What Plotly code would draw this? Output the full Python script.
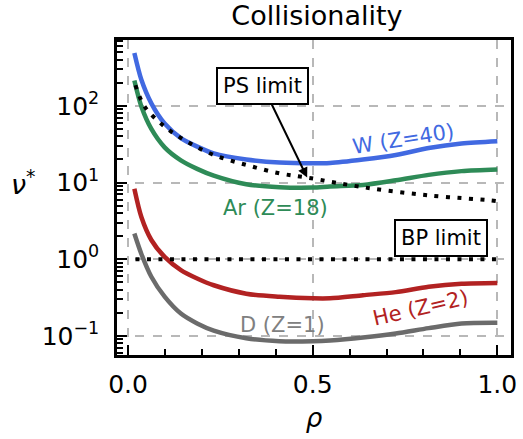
import plotly.graph_objects as go

rho = [0.017, 0.036, 0.063, 0.099, 0.143, 0.187, 0.232, 0.32, 0.41, 0.5,
       0.547, 0.636, 0.725, 0.814, 0.903, 1.0]
nu_W = [490, 219, 108, 58.9, 38, 29.5, 24, 20, 18.2, 17.8,
        18.0, 20.0, 22.9, 28.2, 32.4, 34.7]
nu_Ar = [214, 98, 50, 28.8, 19.5, 15.1, 12.3, 9.5, 8.7, 8.6,
         8.9, 9.3, 10.7, 12.6, 14.1, 14.8]
nu_He = [8.3, 3.55, 1.78, 1.07, 0.72, 0.56, 0.457, 0.355, 0.324, 0.309,
         0.309, 0.339, 0.372, 0.437, 0.479, 0.49]
nu_D = [2.16, 1.17, 0.59, 0.324, 0.195, 0.145, 0.117, 0.093, 0.085, 0.085,
        0.087, 0.095, 0.107, 0.126, 0.145, 0.148]

rho_ps = [0.02, 0.045, 0.099, 0.161, 0.232, 0.32, 0.41, 0.49, 0.636, 0.814, 0.974, 1.0]
nu_ps = [186, 98, 53.7, 33.9, 22.9, 17, 13.2, 11.5, 8.7, 6.8, 5.9, 5.7]
rho_bp = [0.02, 1.0]
nu_bp = [1.0, 1.0]

ytick_vals = [0.1, 1, 10, 100]
ytick_text = ["10<sup>−1</sup>", "10<sup>0</sup>", "10<sup>1</sup>", "10<sup>2</sup>"]
xtick_vals = [0.0, 0.5, 1.0]
xtick_text = ["0.0", "0.5", "1.0"]

colors = {"W": "#4169E1", "Ar": "#2E8B57", "He": "#B22222", "D": "#6B6B6B"}

fig = go.Figure()
for name, vals in [("W", nu_W), ("Ar", nu_Ar), ("He", nu_He), ("D", nu_D)]:
    fig.add_trace(go.Scatter(x=rho, y=vals, mode="lines", line=dict(color=colors[name], width=4.5, shape="spline", smoothing=0.8),
                             showlegend=False, hoverinfo="skip"))
for xs, ys in [(rho_ps, nu_ps), (rho_bp, nu_bp)]:
    fig.add_trace(go.Scatter(x=xs, y=ys, mode="lines", line=dict(color="black", width=4, dash="4px,7.5px", shape="spline"),
                             showlegend=False, hoverinfo="skip"))

minor_y = []
for dec in [0.01, 0.1, 1, 10, 100]:
    for k in range(2, 10):
        v = k * dec
        if 0.056 < v < 720:
            minor_y.append(v)
minor_x = [0.1, 0.2, 0.3, 0.4, 0.6, 0.7, 0.8, 0.9]

font = "DejaVu Sans"
fig.update_layout(
    width=523, height=439,
    margin=dict(l=117, r=6, t=40, b=84),
    paper_bgcolor="white", plot_bgcolor="white",
    font=dict(family=font, color="black", size=25),
    title=dict(text="Collisionality", x=0.606, xanchor="center", y=1 - 16 / 439, yanchor="middle",
               yref="container", font=dict(size=27, family=font)),
)
fig.update_xaxes(
    range=[-0.03, 1.037], tickmode="array", tickvals=xtick_vals, ticktext=xtick_text,
    ticks="inside", ticklen=10, tickwidth=2, tickcolor="black",
    showline=True, linecolor="black", linewidth=2.5, mirror=True,
    showgrid=True, gridcolor="#b8b8b8", griddash="dash", gridwidth=1.5, zeroline=False,
    tickfont=dict(size=25), ticklabelstandoff=5,
    minor=dict(tickmode="array", tickvals=minor_x, ticks="inside", ticklen=6, tickwidth=1.5, tickcolor="black", showgrid=False),
    title=dict(text="<i>ρ</i>", font=dict(size=26), standoff=12),
)
fig.update_yaxes(
    type="log", range=[-1.25, 2.86], tickmode="array", tickvals=ytick_vals, ticktext=ytick_text,
    ticks="inside", ticklen=10, tickwidth=2, tickcolor="black",
    showline=True, linecolor="black", linewidth=2.5, mirror=True,
    showgrid=True, gridcolor="#b8b8b8", griddash="dash", gridwidth=1.5, zeroline=False,
    tickfont=dict(size=25), ticklabelstandoff=10,
    minor=dict(tickmode="array", tickvals=minor_y, ticks="inside", ticklen=6, tickwidth=1.5, tickcolor="black", showgrid=False),
)

# horizontal y-axis label
fig.add_annotation(xref="paper", yref="y", x=-0.2, y=1.0, xanchor="right", yanchor="middle",
                   text="<i>ν</i><sup>*</sup>", showarrow=False, font=dict(size=27, family=font, color="black"))

fig.add_annotation(x=0.747, y=1.57, text="W (Z=40)", textangle=-9, font=dict(size=21, color=colors["W"], family=font), showarrow=False)
fig.add_annotation(x=0.40, y=0.67, text="Ar (Z=18)", font=dict(size=21, color=colors["Ar"], family=font), showarrow=False)
fig.add_annotation(x=0.792, y=-0.64, text="He (Z=2)", textangle=-13, font=dict(size=21, color=colors["He"], family=font), showarrow=False)
fig.add_annotation(x=0.419, y=-0.86, text="D (Z=1)", font=dict(size=21, color="#808080", family=font), showarrow=False)

fig.add_annotation(x=0.485, y=1.065, ax=0.365, ay=2.26, axref="x", ayref="y", text="PS limit",
                   showarrow=True, arrowhead=2, arrowwidth=2, arrowsize=1, arrowcolor="black",
                   bordercolor="black", borderwidth=2, borderpad=5, bgcolor="white",
                   font=dict(size=21, family=font, color="black"))
fig.add_annotation(x=0.847, y=0.28, text="BP limit", showarrow=False,
                   bordercolor="black", borderwidth=2, borderpad=5, bgcolor="white",
                   font=dict(size=21, family=font, color="black"))

fig.write_html("out.html")
